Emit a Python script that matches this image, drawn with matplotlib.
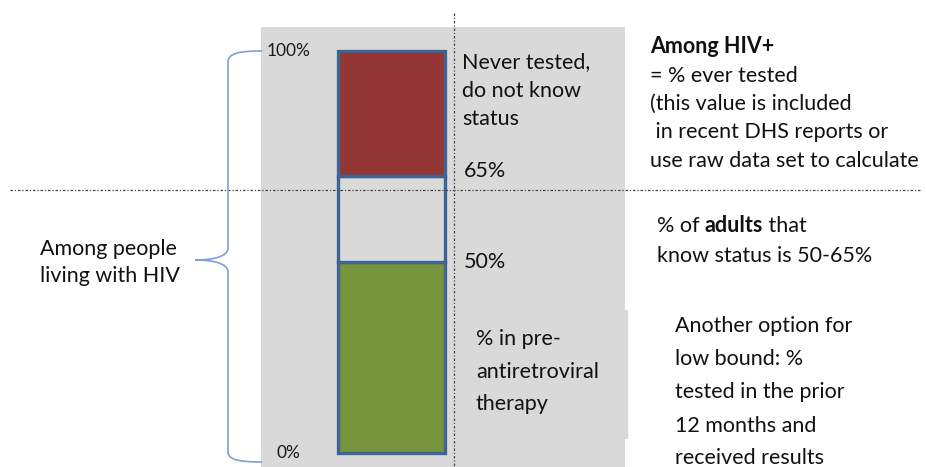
import matplotlib
matplotlib.use("Agg")
import matplotlib.pyplot as plt
from matplotlib.path import Path
from matplotlib.patches import PathPatch, Rectangle

# data
categories = ["People living with HIV"]
segment_names = ["pre-ART", "know status range", "never tested"]
segment_values = [47.5, 21.5, 31.0]
segment_colors = ["#77933c", "#d9d9d9", "#943634"]
tick_values = [0, 100]
tick_labels = ["0%", "100%"]

plt.rcParams['font.family'] = ['Lato', 'DejaVu Sans']

W, H = 927, 467
fig = plt.figure(figsize=(W / 100, H / 100), dpi=100)

def box(x0, y0, x1, y1):
    # pixel box -> figure fraction
    return [x0 / W, 1 - y1 / H, (x1 - x0) / W, (y1 - y0) / H]

# bar axes (the gray panel)
ax = fig.add_axes(box(261, 27, 625, 467))
ax.set_facecolor("#d9d9d9")
bottom = 0
for v, c in zip(segment_values, segment_colors):
    ax.bar(categories, [v], bottom=bottom, width=0.6, color=c,
           edgecolor="#3e6496", linewidth=2.4, zorder=3)
    bottom += v
ax.set_xlim(-0.73, 1.31)
ax.set_ylim(-3.48, 105.97)
ax.set_xticks([])
ax.set_yticks([])
for s in ax.spines.values():
    s.set_visible(False)
for v, lab in zip(tick_values, tick_labels):
    ax.text(-0.575, v, lab, ha="center", va="center", fontsize=12.5, color="#1a1a1a")

# overlay in pixel coordinates
ov = fig.add_axes([0, 0, 1, 1])
ov.set_xlim(0, W)
ov.set_ylim(H, 0)
ov.axis("off")
ov.patch.set_visible(False)

ov.add_patch(Rectangle((455, 310), 172, 128, color="#d9d9d9", zorder=0))

# dotted guide lines
ov.plot([454, 454], [13, 467], color="#444444", lw=0.9, ls=(0, (2, 1.5, 1, 1.5)), zorder=2)
ov.plot([10, 922], [190, 190], color="#444444", lw=0.9, ls=(0, (2, 1.5, 1, 1.5)), zorder=2)

# brace
verts = [(262, 51), (240, 51), (228, 53), (228, 62),
         (228, 248),
         (228, 256), (215, 260), (195, 260),
         (215, 260), (228, 264), (228, 272),
         (228, 452),
         (228, 460), (240, 462), (262, 462)]
codes = [Path.MOVETO, Path.CURVE4, Path.CURVE4, Path.CURVE4,
         Path.LINETO,
         Path.CURVE4, Path.CURVE4, Path.CURVE4,
         Path.CURVE4, Path.CURVE4, Path.CURVE4,
         Path.LINETO,
         Path.CURVE4, Path.CURVE4, Path.CURVE4]
ov.add_patch(PathPatch(Path(verts, codes), fill=False, edgecolor="#7f9fd4", lw=1.2, zorder=3))

fs = 15.5
tc = "#111111"

def lines(x, baselines, texts, bold_first=False):
    for i, (y, t) in enumerate(zip(baselines, texts)):
        w = "bold" if (bold_first and i == 0) else "normal"
        ov.text(x, y, t, fontsize=fs, color=tc, va="baseline", ha="left", fontweight=w)

lines(40, [255, 282], ["Among people", "living with HIV"])
lines(462, [68, 97, 125], ["Never tested,", "do not know", "status"])
lines(464, [177], ["65%"])
lines(464, [268], ["50%"])
lines(476, [345, 378, 410], ["% in pre-", "antiretroviral", "therapy"])
lines(650, [53, 82, 110, 138, 167],
      ["Among HIV+", "= % ever tested", "(this value is included",
       " in recent DHS reports or", "use raw data set to calculate"], bold_first=True)

# mixed-weight line
fig.canvas.draw()
r = fig.canvas.get_renderer()
sx = W / fig.bbox.width
t1 = ov.text(657, 232, "% of ", fontsize=fs, color=tc, va="baseline")
x = 657 + t1.get_window_extent(r).width * sx
t2 = ov.text(x, 232, "adults", fontsize=fs, color=tc, va="baseline", fontweight="bold")
x += t2.get_window_extent(r).width * sx
ov.text(x, 232, " that", fontsize=fs, color=tc, va="baseline")
lines(657, [262], ["know status is 50-65%"])

lines(675, [332, 365, 398, 432, 464],
      ["Another option for", "low bound: %", "tested in the prior",
       "12 months and", "received results"])

fig.savefig("out.png", dpi=100)
